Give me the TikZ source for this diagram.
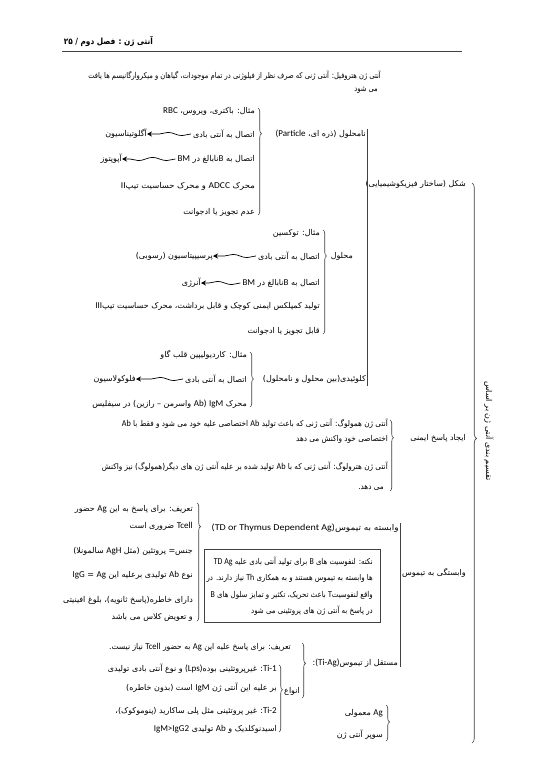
\documentclass[tikz,border=0pt]{standalone}
\usepackage{graphicx}
\usepackage{fontspec}
\usetikzlibrary{decorations.pathreplacing,decorations.pathmorphing,arrows.meta}
\TeXXeTstate=1
\newfontfamily\arf[Script=Arabic]{DejaVu Sans}
\newfontfamily\latf{Carlito}
\newcommand\lw[1]{\beginL{\latf\fontsize{9}{10}\selectfont #1}\endL}
\newcommand\sx[2]{\scalebox{#1}[1]{#2}}
\tikzset{
  txt/.style={anchor=east, inner sep=0pt, font=\arf\fontsize{8}{9}\selectfont},
  lnk/.style={line width=0.6pt, draw=black!75},
  br/.style={decorate, decoration={brace, amplitude=3.5pt}, line width=0.6pt, draw=black!75},
  wav/.style={-{Stealth[length=5pt,width=5pt]}, decorate,
    decoration={snake, amplitude=1.6pt, segment length=28pt, post length=5pt}, line width=0.7pt},
  boxst/.style={draw=black!75, line width=0.6pt, anchor=north west, inner sep=0pt}
}
\begin{document}
\begin{tikzpicture}[x=1pt,y=-1pt]
\useasboundingbox (0,0) rectangle (538,768);
\fill[white] (0,0) rectangle (538,768);
% header
\node[txt, font=\arf\fontsize{8.5}{9}\selectfont\bfseries] (hdr) at (153,41) {\sx{0.86}{\beginR آنتی ژن : فصل دوم  /  ۲۵\endR}};
\coordinate (hl) at (62,51); \coordinate (hr) at (462,51);
\draw[lnk] (hl) -- (hr);
\node[txt] (p1) at (381,76) {\sx{0.84}{\beginR آنتی ژن هتروفیل: آنتی ژنی که صرف نظر از فیلوژنی در تمام موجودات، گیاهان و میکروارگانیسم ها یافت\endR}};
\node[txt] (p2) at (378,90) {\sx{0.84}{\beginR می شود\endR}};
% group nam-mahlul
\node[txt] (a1) at (255,111) {\beginR مثال: باکتری، ویروس، \lw{RBC}\endR};
\node[txt] (a2) at (255,134) {\beginR اتصال به آنتی بادی\endR};
\node[txt] (a2r) at (147,134) {\beginR آگلوتیناسیون\endR};
\node[txt] (a3) at (255,159) {\beginR اتصال به \lw{B}نابالغ در \lw{BM}\endR};
\node[txt] (a3r) at (122,159) {\beginR آپوپتوز\endR};
\node[txt] (a4) at (255,186) {\sx{1.05}{\beginR محرک \lw{ADCC} و محرک حساسیت تیپ\lw{II}\endR}};
\node[txt] (a5) at (255,212) {\beginR عدم تجویز یا ادجوانت\endR};
\draw[wav] (a2.west) ++(-2,0) coordinate (a2s) (a2s) -- (a2r.east);
\draw[wav] (a3.west) ++(-2,0) coordinate (a3s) (a3s) -- (a3r.east);
\coordinate (ba1) at (258,108); \coordinate (ba2) at (258,215);
\draw[br, decoration={aspect=0.24}] (ba1) -- (ba2);
\node[txt] (A) at (366,134) {\beginR نامحلول (ذره ای، \lw{(Particle}\endR};
% shekl
\node[txt] (S) at (466,184) {\beginR شکل (ساختار فیزیکوشیمیایی)\endR};
\coordinate (sv1) at (367,129); \coordinate (sv2) at (367,386);
\draw[lnk] (sv1) -- (sv2);
% group mahlul
\node[txt] (b1) at (320,233) {\beginR مثال: توکسین\endR};
\node[txt] (b2) at (320,256) {\beginR اتصال به آنتی بادی\endR};
\node[txt] (b2r) at (213,256) {\beginR پرسیپیتاسیون (رسوبی)\endR};
\node[txt] (b3) at (320,283) {\beginR اتصال به \lw{B}نابالغ در \lw{BM}\endR};
\node[txt] (b3r) at (201,283) {\beginR آنرژی\endR};
\node[txt] (b4) at (320,306) {\beginR تولید کمپلکس ایمنی کوچک و قابل برداشت، محرک حساسیت تیپ\lw{III}\endR};
\node[txt] (b5) at (320,331) {\beginR قابل تجویز یا ادجوانت\endR};
\draw[wav] (b2.west) ++(-2,0) coordinate (b2s) (b2s) -- (b2r.east);
\draw[wav] (b3.west) ++(-2,0) coordinate (b3s) (b3s) -- (b3r.east);
\coordinate (bb1) at (323,230); \coordinate (bb2) at (323,334);
\draw[br, decoration={aspect=0.25}] (bb1) -- (bb2);
\node[txt] (B) at (353,256) {\beginR محلول\endR};
% group colloid
\node[txt] (c1) at (247,355) {\beginR مثال: کاردیولیپین قلب گاو\endR};
\node[txt] (c2) at (247,379) {\beginR اتصال به آنتی بادی\endR};
\node[txt] (c2r) at (136,379) {\beginR فلوکولاسیون\endR};
\node[txt] (c3) at (247,404) {\beginR محرک \lw{IgM} \lw{Ab)} واسرمن – رازین) در سیفلیس\endR};
\draw[wav] (c2.west) ++(-2,0) coordinate (c2s) (c2s) -- (c2r.east);
\coordinate (bc1) at (250,352); \coordinate (bc2) at (250,407);
\draw[br, decoration={aspect=0.49}] (bc1) -- (bc2);
\node[txt] (C) at (366,379) {\beginR کلوئیدی(بین محلول و نامحلول)\endR};
% group immune response
\node[txt] (d1) at (388,424) {\sx{0.91}{\beginR آنتی ژن همولوگ: آنتی ژنی که باعث تولید \lw{Ab} اختصاصی علیه خود می شود و فقط با \lw{Ab}\endR}};
\node[txt] (d2) at (388,439) {\sx{0.91}{\beginR اختصاصی خود واکنش می دهد\endR}};
\node[txt] (d3) at (388,467) {\sx{0.91}{\beginR آنتی ژن هترولوگ: آنتی ژنی که با \lw{Ab} تولید شده بر علیه آنتی ژن های دیگر(همولوگ) نیز واکنش\endR}};
\node[txt] (d4) at (384,488) {\sx{0.91}{\beginR می دهد.\endR}};
\coordinate (bd1) at (390,420); \coordinate (bd2) at (390,491);
\draw[br, decoration={aspect=0.25}] (bd1) -- (bd2);
\node[txt] (D) at (466,438) {\beginR ایجاد پاسخ ایمنی\endR};
% TD group
\node[txt] (e1) at (193,509) {\beginR تعریف: برای پاسخ به این \lw{Ag} حضور\endR};
\node[txt] (e2) at (193,526) {\beginR \lw{Tcell} ضروری است\endR};
\node[txt] (e3) at (193,551) {\beginR جنس= پروتئین (مثل \lw{AgH} سالمونلا)\endR};
\node[txt] (e4) at (193,575) {\beginR نوع \lw{Ab} تولیدی برعلیه این \lw{Ag} = \lw{IgG}\endR};
\node[txt] (e5) at (193,600) {\beginR دارای خاطره(پاسخ ثانویه)، بلوغ افینیتی\endR};
\node[txt] (e6) at (193,617) {\beginR و تعویض کلاس می باشد\endR};
\coordinate (be1) at (197,503); \coordinate (be2) at (197,621);
\draw[br, decoration={aspect=0.2}] (be1) -- (be2);
\node[txt] (E) at (399,528) {\sx{1.12}{\beginR وابسته به تیموس\lw{(TD or Thymus Dependent Ag)}\endR}};
\node[boxst, minimum width=176pt, minimum height=73pt] (box) at (204,549) {};
\node[txt] (k1) at (373,562) {\sx{0.875}{\beginR نکته: لنفوسیت های \lw{B} برای تولید آنتی بادی علیه \lw{TD Ag}\endR}};
\node[txt] (k2) at (373,578) {\sx{0.875}{\beginR ها وابسته به تیموس هستند و به همکاری \lw{Th} نیاز دارند. در\endR}};
\node[txt] (k3) at (373,595) {\sx{0.875}{\beginR واقع لنفوسیت\lw{T} باعث تحریک، تکثیر و تمایز سلول های \lw{B}\endR}};
\node[txt] (k4) at (373,611) {\sx{0.875}{\beginR در پاسخ به آنتی ژن های پروتئینی می شود\endR}};
\node[txt] (V) at (466,573) {\beginR وابستگی به تیموس:\endR};
\coordinate (vv1) at (400,523); \coordinate (vv2) at (400,667);
\draw[lnk] (vv1) -- (vv2);
% Ti group
\node[txt] (f1) at (291,647) {\sx{0.95}{\beginR تعریف: برای پاسخ علیه این \lw{Ag} به حضور \lw{Tcell} نیاز نیست.\endR}};
\node[txt] (g1) at (277,669) {\beginR \lw{Ti-1}: غیرپروتئینی بوده\lw{(Lps)} و نوع آنتی بادی تولیدی\endR};
\node[txt] (g2) at (277,688) {\beginR بر علیه این آنتی ژن \lw{IgM} است (بدون خاطره)\endR};
\node[txt] (g3) at (277,711) {\beginR \lw{Ti-2}: غیر پروتئینی مثل پلی ساکارید (پنوموکوک)،\endR};
\node[txt] (g4) at (277,729) {\beginR اسیدنوکلدیک و \lw{Ab} تولیدی \lw{IgM>IgG2}\endR};
\coordinate (bg1) at (279,665); \coordinate (bg2) at (279,732);
\draw[br, decoration={aspect=0.37}] (bg1) -- (bg2);
\node[txt] (G) at (300,691) {\beginR انواع\endR};
\coordinate (bf1) at (302,643); \coordinate (bf2) at (302,698);
\draw[br, decoration={aspect=0.37}] (bf1) -- (bf2);
\node[txt] (F) at (398,663) {\beginR مستقل از تیموس\lw{(Ti-Ag)}:\endR};
% Ag types
\node[txt] (h1) at (383,713) {\beginR \lw{Ag} معمولی\endR};
\node[txt] (h2) at (383,735) {\beginR سوپر آنتی ژن\endR};
\coordinate (bh1) at (386,705); \coordinate (bh2) at (386,741);
\draw[br, decoration={aspect=0.47}] (bh1) -- (bh2);
% main brace and root
\coordinate (bm1) at (472,183); \coordinate (bm2) at (472,743);
\draw[br, decoration={aspect=0.456, amplitude=4.5pt}] (bm1) -- (bm2);
\node[inner sep=0pt, rotate=-90, font=\arf\fontsize{8}{9}\selectfont] (R) at (489,431) {\beginR تقسیم بندی آنتی ژن بر اساس\endR};
\end{tikzpicture}
\end{document}
